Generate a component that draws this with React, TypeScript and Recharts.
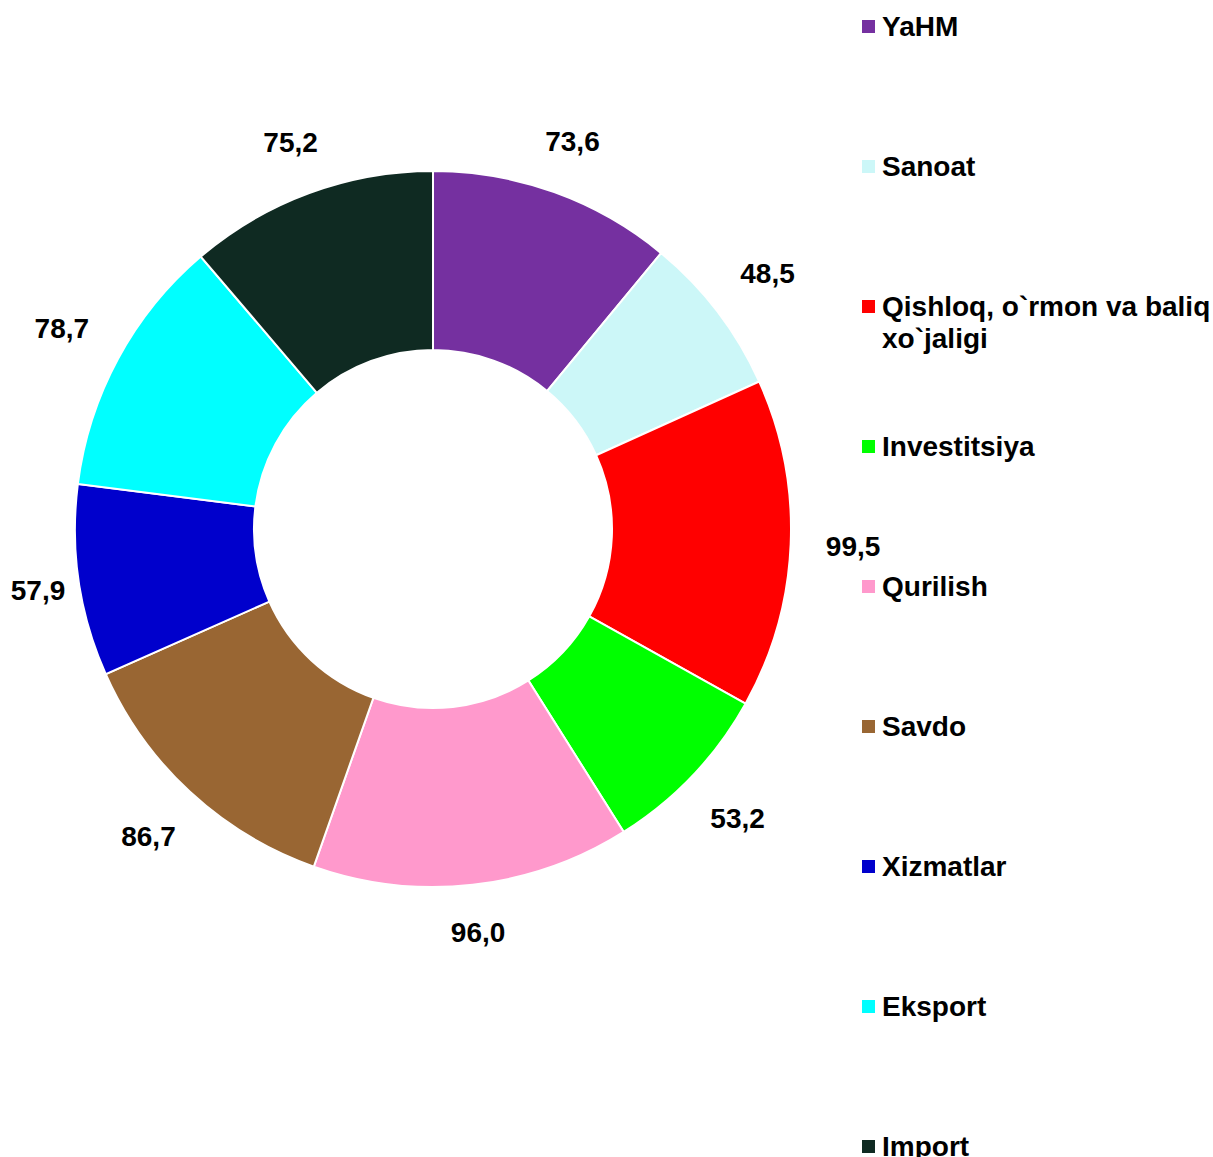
import React from "react";
import { PieChart, Pie, Cell, Legend } from "recharts";

const categories = [
  "YaHM",
  "Sanoat",
  "Qishloq, o`rmon va baliq xo`jaligi",
  "Investitsiya",
  "Qurilish",
  "Savdo",
  "Xizmatlar",
  "Eksport",
  "Import",
];
const values = [73.6, 48.5, 99.5, 53.2, 96.0, 86.7, 57.9, 78.7, 75.2];
const valueLabels = ["73,6", "48,5", "99,5", "53,2", "96,0", "86,7", "57,9", "78,7", "75,2"];
const colors = [
  "#7530A0",
  "#CCF7F8",
  "#FF0000",
  "#00FF00",
  "#FF99CC",
  "#996633",
  "#0000CC",
  "#00FFFF",
  "#0F2A22",
];

const data = categories.map((name, i) => ({ name, value: values[i], label: valueLabels[i] }));

const FONT = "'Liberation Sans', Arial, sans-serif";
const FONT_SIZE = 28;
const RAD = Math.PI / 180;
const LABEL_W = 56;
const LABEL_H = 22;
const LABEL_GAP = 34;

const renderLabel = (props: any) => {
  const { cx, cy, outerRadius, midAngle, index } = props;
  const c = Math.cos(-midAngle * RAD);
  const s = Math.sin(-midAngle * RAD);
  const extent = Math.abs(c) * (LABEL_W / 2) + Math.abs(s) * (LABEL_H / 2);
  const r = outerRadius + LABEL_GAP + extent;
  let x = cx + r * c;
  const y = cy + r * s;
  x = Math.max(LABEL_W / 2 + 10, x);
  return (
    <text
      x={x}
      y={y}
      textAnchor="middle"
      dominantBaseline="central"
      fontFamily={FONT}
      fontWeight="bold"
      fontSize={FONT_SIZE}
      fill="#000"
    >
      {valueLabels[index]}
    </text>
  );
};

const renderLegend = (props: any) => {
  const payload = [...(props.payload || [])].sort(
    (a: any, b: any) => categories.indexOf(a.value) - categories.indexOf(b.value)
  );
  return (
    <div style={{ position: "relative", width: 331, height: 1157 }}>
      {payload.map((entry: any, i: number) => (
        <div
          key={i}
          style={{
            position: "absolute",
            left: 0,
            top: 11 + i * 140,
            width: 335,
            fontFamily: FONT,
            fontWeight: "bold",
            fontSize: FONT_SIZE,
            lineHeight: "32px",
            color: "#000",
          }}
        >
          <span
            style={{
              position: "absolute",
              left: -20,
              top: 9,
              width: 13,
              height: 13,
              background: entry.color,
            }}
          />
          <span>{entry.value}</span>
        </div>
      ))}
    </div>
  );
};

export default function App() {
  return (
    <div style={{ position: "absolute", left: 0, top: 0, width: 1213, height: 1157, background: "#fff" }}>
      <PieChart width={1213} height={1157} margin={{ top: 0, right: 0, bottom: 0, left: 0 }}>
        <Pie
          data={data}
          dataKey="value"
          nameKey="name"
          cx={433}
          cy={529}
          innerRadius={179}
          outerRadius={358}
          startAngle={90}
          endAngle={-270}
          stroke="#ffffff"
          strokeWidth={2}
          label={renderLabel}
          labelLine={false}
          isAnimationActive={false}
        >
          {data.map((d, i) => (
            <Cell key={d.name} fill={colors[i]} />
          ))}
        </Pie>
        <Legend
          layout="vertical"
          align="right"
          verticalAlign="top"
          content={renderLegend}
          wrapperStyle={{ position: "absolute", left: 882, top: 0, width: 331, height: 1157 }}
        />
      </PieChart>
    </div>
  );
}
